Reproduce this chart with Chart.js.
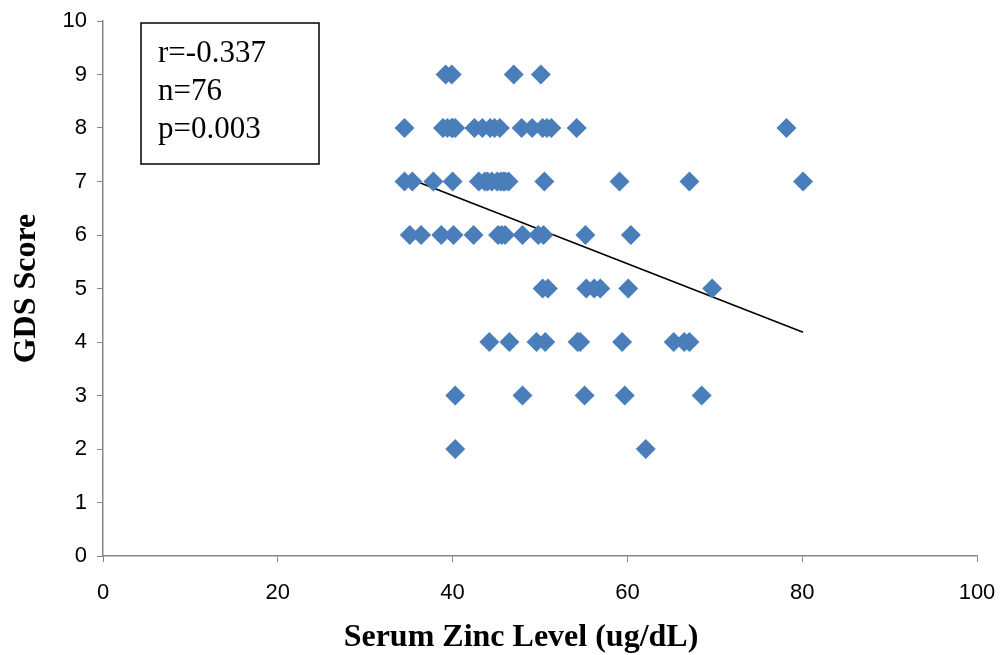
<!DOCTYPE html>
<html>
<head>
<meta charset="UTF-8">
<title>GDS Score vs Serum Zinc</title>
<script src="https://cdn.jsdelivr.net/npm/chart.js"></script>
<style>
  html, body { margin: 0; padding: 0; background: #fff; }
  #wrap { width: 1000px; height: 655px; position: relative; }
</style>
</head>
<body>
<div id="wrap"><canvas id="chart" width="1000" height="655"></canvas></div>
<script>
// serum zinc (x) and GDS score (y)
const zinc = [
  39.2, 39.9, 47.0, 50.1,
  34.5, 38.9, 39.4, 39.9, 40.3, 40.0, 42.5, 43.4, 44.3, 44.8, 45.4, 47.9, 49.1, 50.3, 50.8, 51.3, 54.2, 78.2,
  34.5, 35.4, 37.8, 40.0, 43.0, 43.7, 44.0, 44.5, 45.1, 45.5, 45.8, 46.0, 46.4, 50.5, 59.1, 67.1, 80.1,
  35.1, 36.4, 38.7, 40.1, 42.4, 45.2, 45.6, 46.0, 48.0, 49.8, 50.4, 55.2, 60.4,
  50.3, 50.9, 55.3, 56.2, 56.9, 60.1, 69.7,
  44.2, 46.5, 49.6, 50.6, 54.3, 54.6, 59.4, 65.3, 66.5, 67.1,
  40.3, 48.0, 55.1, 59.7, 68.5,
  40.3, 62.1
];
const gds = [
  9, 9, 9, 9,
  8, 8, 8, 8, 8, 8, 8, 8, 8, 8, 8, 8, 8, 8, 8, 8, 8, 8,
  7, 7, 7, 7, 7, 7, 7, 7, 7, 7, 7, 7, 7, 7, 7, 7, 7,
  6, 6, 6, 6, 6, 6, 6, 6, 6, 6, 6, 6, 6,
  5, 5, 5, 5, 5, 5, 5,
  4, 4, 4, 4, 4, 4, 4, 4, 4, 4,
  3, 3, 3, 3, 3,
  2, 2
];
// fitted line end points
const fitX = [34.5, 80.1];
const fitY = [7.09, 4.18];
const statLines = ['r=-0.337', 'n=76', 'p=0.003'];
const xTitle = 'Serum Zinc Level (ug/dL)';

const tickFont = { family: "'Liberation Sans', Arial, sans-serif", size: 22 };
const titleFont = { family: "'Liberation Serif', 'Times New Roman', serif", size: 32, weight: 'bold' };

// stats box and x-axis title (centred on the whole chart, not the plot)
const extras = {
  id: 'extras',
  afterDraw(chart) {
    const c = chart.ctx;
    c.save();
    c.strokeStyle = '#000';
    c.lineWidth = 1.5;
    c.strokeRect(141, 23, 178, 141);
    c.fillStyle = '#000';
    c.font = "31px 'Liberation Serif', serif";
    c.textBaseline = 'middle';
    statLines.forEach((t, i) => c.fillText(t, 158, 54 + i * 38));
    c.font = "bold 32px 'Liberation Serif', serif";
    c.textAlign = 'center';
    c.fillText(xTitle, 521, 638);
    c.restore();
  }
};

new Chart(document.getElementById('chart'), {
  type: 'scatter',
  data: {
    datasets: [{
      data: zinc.map((x, i) => ({ x: x, y: gds[i] })),
      pointStyle: 'rectRot',
      pointRadius: 10,
      pointHoverRadius: 10,
      backgroundColor: '#4A7EBB',
      borderWidth: 0
    }, {
      type: 'line',
      data: fitX.map((x, i) => ({ x: x, y: fitY[i] })),
      borderColor: '#000',
      borderWidth: 1.6,
      pointRadius: 0,
      fill: false
    }]
  },
  options: {
    responsive: false,
    animation: false,
    layout: { padding: { top: 21, right: 23, left: 0, bottom: 0 } },
    plugins: { legend: { display: false }, tooltip: { enabled: false } },
    scales: {
      x: {
        type: 'linear', min: 0, max: 100,
        ticks: { stepSize: 20, color: '#000', font: tickFont, padding: 18 },
        grid: { drawOnChartArea: false, tickLength: 6, color: '#868686' },
        border: { color: '#868686', width: 1.5 },
        afterFit(s) { s.height = 99; s.paddingLeft = 0; s.paddingRight = 0; }
      },
      y: {
        min: 0, max: 10,
        ticks: { stepSize: 1, color: '#000', font: tickFont, padding: 10 },
        grid: { drawOnChartArea: false, tickLength: 6, color: '#868686' },
        border: { color: '#868686', width: 1.5 },
        title: { display: true, text: 'GDS Score', color: '#000', font: titleFont, padding: { top: 8, bottom: 4 } },
        afterFit(s) { s.width = 103; s.paddingTop = 0; s.paddingBottom = 0; }
      }
    }
  },
  plugins: [extras]
});
</script>
</body>
</html>
